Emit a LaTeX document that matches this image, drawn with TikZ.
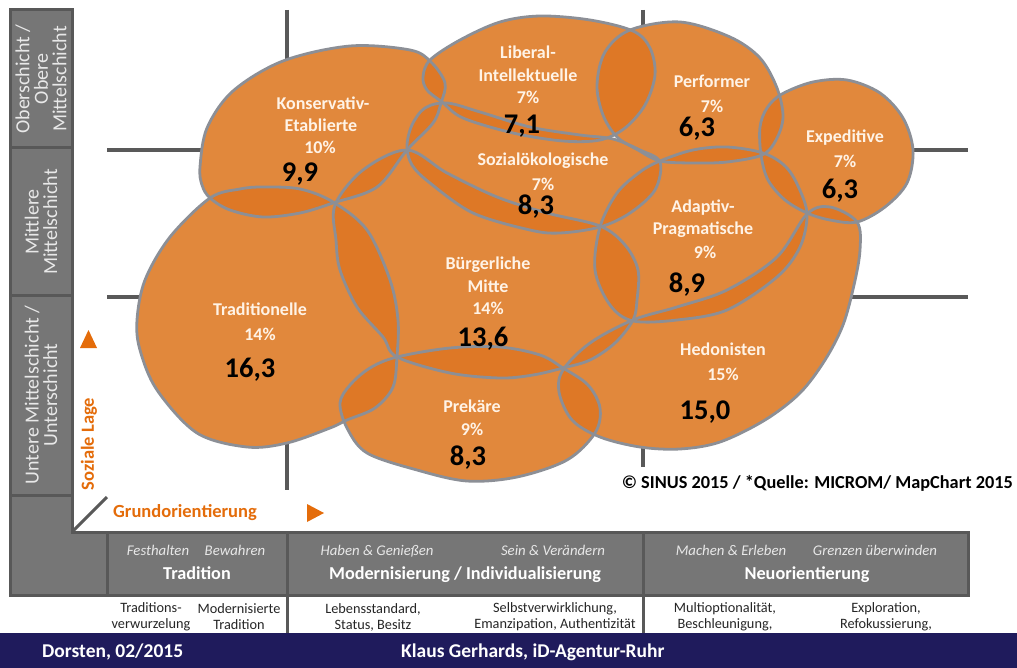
\documentclass[tikz,border=0pt]{standalone}
\usepackage{fontspec}
\setmainfont{Carlito}
\definecolor{blobc}{RGB}{225,136,60}
\definecolor{lensc}{RGB}{222,120,38}
\definecolor{rimc}{RGB}{140,143,150}
\definecolor{gridc}{RGB}{89,89,89}
\definecolor{panelc}{RGB}{118,118,118}
\definecolor{panelrim}{RGB}{88,88,88}
\definecolor{axisor}{RGB}{228,108,10}
\definecolor{navyc}{RGB}{31,27,92}
\definecolor{lblc}{RGB}{255,243,230}
\definecolor{barlbl}{RGB}{232,232,232}

\newcommand\blobKon{plot[smooth cycle, tension=0.55] coordinates {(200,167) (207,128) (233,91) (283,61) (350,46) (410,50) (431,62) (445,83) (441,103) (433,123) (407,150) (377,187) (333,203) (300,213) (263,217) (230,210) (210,198) (202,185)}}
\newcommand\blobLib{plot[smooth cycle, tension=0.55] coordinates {(423,77) (430,60) (460,40) (500,22) (540,16) (590,20) (633,31) (650,48) (655,75) (645,105) (625,128) (600,140) (563,141) (513,133) (463,118) (442,102) (427,90)}}
\newcommand\blobPer{plot[smooth cycle, tension=0.55] coordinates {(597,85) (605,52) (630,30) (680,22) (730,37) (760,58) (777,88) (783,117) (776,140) (762,155) (727,162) (693,163) (660,161) (638,150) (617,137) (603,115)}}
\newcommand\blobExp{plot[smooth cycle, tension=0.55] coordinates {(760,127) (767,108) (782,94) (813,82) (847,80) (880,93) (903,118) (913,150) (907,183) (885,207) (857,222) (830,220) (807,213) (785,200) (768,180) (761,155)}}
\newcommand\blobSoz{plot[smooth cycle, tension=0.55] coordinates {(407,146) (412,125) (425,108) (447,103) (480,112) (530,127) (580,135) (613,139) (640,150) (660,162) (655,190) (630,213) (600,227) (560,233) (530,230) (473,213) (430,183) (412,165)}}
\newcommand\blobAda{plot[smooth cycle, tension=0.55] coordinates {(600,227) (617,193) (640,172) (660,161) (693,150) (727,147) (763,153) (785,166) (798,186) (807,214) (800,247) (777,277) (727,310) (677,320) (633,321) (610,305) (595,270)}}
\newcommand\blobBur{plot[smooth cycle, tension=0.55] coordinates {(407,150) (447,173) (497,197) (547,213) (600,226) (625,245) (638,270) (637,300) (633,320) (615,343) (590,360) (563,368) (533,375) (500,378) (450,373) (397,357) (383,337) (357,307) (340,270) (336,240) (335,205) (363,170)}}
\newcommand\blobTra{plot[smooth cycle, tension=0.55] coordinates {(210,198) (240,189) (263,187) (300,189) (333,202) (367,230) (390,280) (398,320) (397,356) (393,387) (375,408) (347,420) (330,428) (287,443) (247,447) (197,433) (157,390) (140,350) (137,320) (145,280) (170,237)}}
\newcommand\blobPre{plot[smooth cycle, tension=0.55] coordinates {(397,357) (450,348) (500,347) (540,355) (563,368) (588,385) (600,408) (595,433) (567,460) (517,477) (467,481) (417,470) (367,453) (347,428) (340,403) (350,385) (370,368)}}
\newcommand\blobHed{plot[smooth cycle, tension=0.55] coordinates {(563,370) (590,343) (633,320) (677,307) (727,290) (777,257) (807,214) (830,207) (857,222) (860,250) (854,285) (843,325) (825,360) (800,393) (765,420) (720,442) (680,449) (640,447) (600,437) (572,420) (559,392)}}

\newcommand\lenspair[2]{\begin{scope}\clip #1;\fill[lensfill] #2;\end{scope}}

\begin{document}
\begin{tikzpicture}[x=1pt,y=-1pt,
  blobfill/.style={fill=blobc},
  lensfill/.style={fill=lensc},
  blobrim/.style={draw=rimc, line width=2.8pt},
  gridline/.style={draw=gridc, line width=4pt},
  panelbox/.style={fill=panelc, draw=panelrim, line width=3pt, line join=miter},
  divider/.style={draw=gridc, line width=3pt},
  lbl/.style={text=lblc, font=\fontsize{18}{21}\selectfont\bfseries, inner sep=0pt, text height=11.6pt, text depth=0pt},
  num/.style={text=black, font=\fontsize{28.5}{28}\selectfont\bfseries, inner sep=0pt, text height=18pt, text depth=0pt},
  sidelbl/.style={text=barlbl, font=\fontsize{20}{18.5}\selectfont, align=center, rotate=90, inner sep=0pt},
  barital/.style={text=barlbl, font=\fontsize{14.8}{16}\selectfont\itshape, inner sep=0pt, text height=9.6pt, text depth=0pt},
  bartitle/.style={text=white, font=\fontsize{18.2}{20}\selectfont\bfseries, inner sep=0pt, text height=11.7pt, text depth=0pt},
  subtxt/.style={text=black!85, font=\fontsize{14.3}{16}\selectfont, align=center, inner sep=0pt},
  axislbl/.style={text=axisor, font=\fontsize{18.5}{20}\selectfont\bfseries, inner sep=0pt},
  foot/.style={text=white, font=\fontsize{19.5}{20}\selectfont\bfseries, inner sep=0pt, text height=12.5pt, text depth=0pt},
  copy/.style={text=black, font=\fontsize{18.3}{20}\selectfont\bfseries, inner sep=0pt, text height=11.8pt, text depth=0pt}]
\useasboundingbox (0,0) rectangle (1017,668);
\fill[white] (0,0) rectangle (1017,668);

% quadrant grid
\draw[gridline] (287,10) -- (287,490);
\draw[gridline] (643,10) -- (643,467);
\draw[gridline] (107,150) -- (968,150);
\draw[gridline] (107,297) -- (968,297);

% blobs
\fill[blobfill] \blobKon;
\fill[blobfill] \blobLib;
\fill[blobfill] \blobPer;
\fill[blobfill] \blobExp;
\fill[blobfill] \blobSoz;
\fill[blobfill] \blobAda;
\fill[blobfill] \blobBur;
\fill[blobfill] \blobTra;
\fill[blobfill] \blobPre;
\fill[blobfill] \blobHed;

% overlaps
\lenspair{\blobKon}{\blobLib}
\lenspair{\blobKon}{\blobSoz}
\lenspair{\blobKon}{\blobBur}
\lenspair{\blobKon}{\blobTra}
\lenspair{\blobLib}{\blobSoz}
\lenspair{\blobLib}{\blobPer}
\lenspair{\blobSoz}{\blobBur}
\lenspair{\blobSoz}{\blobAda}
\lenspair{\blobSoz}{\blobPer}
\lenspair{\blobPer}{\blobAda}
\lenspair{\blobPer}{\blobExp}
\lenspair{\blobExp}{\blobAda}
\lenspair{\blobExp}{\blobHed}
\lenspair{\blobAda}{\blobBur}
\lenspair{\blobAda}{\blobHed}
\lenspair{\blobBur}{\blobTra}
\lenspair{\blobBur}{\blobPre}
\lenspair{\blobBur}{\blobHed}
\lenspair{\blobTra}{\blobPre}
\lenspair{\blobPre}{\blobHed}

% outlines
\draw[blobrim] \blobKon;
\draw[blobrim] \blobLib;
\draw[blobrim] \blobPer;
\draw[blobrim] \blobExp;
\draw[blobrim] \blobSoz;
\draw[blobrim] \blobAda;
\draw[blobrim] \blobBur;
\draw[blobrim] \blobTra;
\draw[blobrim] \blobPre;
\draw[blobrim] \blobHed;

% blob labels
\node[lbl] (kon1) at (323,104) {Konservativ-};
\node[lbl] (kon2) at (321,126) {Etablierte};
\node[lbl] (kon3) at (320,148) {10\%};
\node[num] (kon4) at (300,173) {9,9};

\node[lbl] (lib1) at (528,53) {Liberal-};
\node[lbl] (lib2) at (528,76) {Intellektuelle};
\node[lbl] (lib3) at (528,98) {7\%};
\node[num] (lib4) at (522,125) {7,1};

\node[lbl] (soz1) at (543,160) {Sozialökologische};
\node[lbl] (soz2) at (543,185) {7\%};
\node[num] (soz3) at (536,206) {8,3};

\node[lbl] (per1) at (712,82) {Performer};
\node[lbl] (per2) at (712,107) {7\%};
\node[num] (per3) at (697,128) {6,3};

\node[lbl] (exp1) at (845,137) {Expeditive};
\node[lbl] (exp2) at (845,162) {7\%};
\node[num] (exp3) at (840,190) {6,3};

\node[lbl] (ada1) at (703,207) {Adaptiv-};
\node[lbl] (ada2) at (703,229) {Pragmatische};
\node[lbl] (ada3) at (705,253) {9\%};
\node[num] (ada4) at (687,284) {8,9};

\node[lbl] (bur1) at (488,264) {Bürgerliche};
\node[lbl] (bur2) at (488,287) {Mitte};
\node[lbl] (bur3) at (488,309) {14\%};
\node[num] (bur4) at (483,337) {13,6};

\node[lbl] (tra1) at (260,310) {Traditionelle};
\node[lbl] (tra2) at (260,335) {14\%};
\node[num] (tra3) at (250,368) {16,3};

\node[lbl] (pre1) at (472,407) {Prekäre};
\node[lbl] (pre2) at (472,430) {9\%};
\node[num] (pre3) at (468,456) {8,3};

\node[lbl] (hed1) at (723,350) {Hedonisten};
\node[lbl] (hed2) at (723,375) {15\%};
\node[num] (hed3) at (705,410) {15,0};

\node[copy, anchor=east] (copyr) at (1013,483) {© SINUS 2015 / *Quelle: MICROM/ MapChart 2015};

% left panel
\draw[panelbox] (10,10) rectangle (72,148);
\draw[panelbox] (10,148) rectangle (72,296);
\draw[panelbox] (10,296) rectangle (72,495);
\draw[panelbox] (10,495) -- (72,495) -- (72,532) -- (107,532) -- (107,595) -- (10,595) -- cycle;
\node[sidelbl] (ob) at (41,79) {Oberschicht /\\Obere\\Mittelschicht};
\node[sidelbl] (mi) at (41,222) {Mittlere\\Mittelschicht};
\node[sidelbl] (un) at (41,395) {Untere Mittelschicht /\\Unterschicht};

% axes
\draw[draw=gridc, line width=3pt] (73,531) -- (107,497);
\node[axislbl, rotate=90] (soz) at (89,444) {Soziale Lage};
\fill[axisor] (80,348) -- (97,348) -- (88.5,330) -- cycle;
\node[axislbl, anchor=west] (grund) at (113,513) {Grundorientierung};
\fill[axisor] (307,504) -- (307,522) -- (324,513) -- cycle;

% bottom bar
\draw[panelbox] (107,532) rectangle (968,595);
\draw[divider] (287,532) -- (287,633);
\draw[divider] (643,532) -- (643,633);
\node[barital] (b1) at (158,551) {Festhalten};
\node[barital] (b2) at (235,551) {Bewahren};
\node[barital] (b3) at (377,551) {Haben \& Genießen};
\node[barital] (b4) at (553,551) {Sein \& Verändern};
\node[barital] (b5) at (731,551) {Machen \& Erleben};
\node[barital] (b6) at (875,551) {Grenzen überwinden};
\node[bartitle] (t1) at (197,574) {Tradition};
\node[bartitle] (t2) at (465,574) {Modernisierung / Individualisierung};
\node[bartitle] (t3) at (807,574) {Neuorientierung};

\node[subtxt] (s1) at (151,617) {Traditions-\\verwurzelung};
\node[subtxt] (s2) at (239,617) {Modernisierte\\Tradition};
\node[subtxt] (s3) at (373,617) {Lebensstandard,\\Status, Besitz};
\node[subtxt] (s4) at (555,617) {Selbstverwirklichung,\\Emanzipation, Authentizität};
\node[subtxt] (s5) at (725,617) {Multioptionalität,\\Beschleunigung,};
\node[subtxt] (s6) at (886,617) {Exploration,\\Refokussierung,};

% footer
\fill[navyc] (0,633) rectangle (1017,668);
\node[foot, anchor=west] (f1) at (42,651) {Dorsten, 02/2015};
\node[foot, anchor=west] (f2) at (401,651) {Klaus Gerhards, iD-Agentur-Ruhr};
\end{tikzpicture}
\end{document}
